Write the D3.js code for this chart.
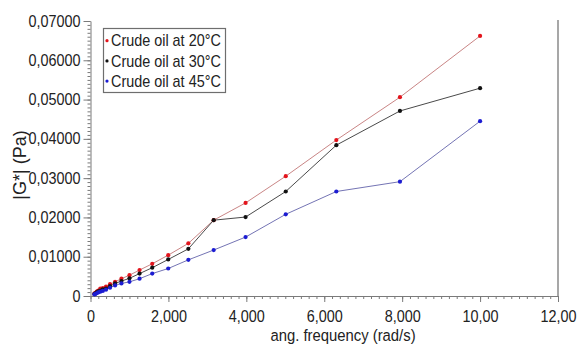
<!DOCTYPE html>
<html>
<head>
<meta charset="utf-8">
<script src="https://cdn.jsdelivr.net/npm/d3@7"></script>
<style>
  html, body { margin: 0; padding: 0; background: #fff; }
  svg { display: block; font-family: "Liberation Sans", Arial, sans-serif; }
  .squeeze { transform-box: fill-box; transform: scaleX(0.9); }
</style>
</head>
<body>
<div id="chart"></div>
<script>
// angular frequency (rad/s), 5 points per decade
const frequency = [0.1, 0.1259, 0.1585, 0.1995, 0.2512, 0.3162, 0.3981, 0.5012, 0.631, 0.7943,
  1.0, 1.259, 1.585, 1.995, 2.512, 3.162, 3.981, 5.012, 6.31, 7.943, 10.0];

const oil20 = [0.0006, 0.0008, 0.0011, 0.0014, 0.0019, 0.0020, 0.0024, 0.0030, 0.0036, 0.0044,
  0.0053, 0.0066, 0.0082, 0.0104, 0.0134, 0.0193, 0.0237, 0.0305, 0.0397, 0.0506, 0.0662];
const oil30 = [0.0005, 0.0007, 0.0009, 0.0012, 0.0014, 0.0017, 0.0019, 0.0025, 0.0032, 0.0038,
  0.0045, 0.0057, 0.0072, 0.0093, 0.0120, 0.0193, 0.0201, 0.0266, 0.0384, 0.0471, 0.0529];
const oil45 = [0.0004, 0.0005, 0.0007, 0.0009, 0.0011, 0.0013, 0.0016, 0.0021, 0.0027, 0.0032,
  0.0036, 0.0044, 0.0057, 0.0070, 0.0092, 0.0117, 0.0150, 0.0208, 0.0266, 0.0291, 0.0445];

const seriesNames = ["Crude oil at 20°C", "Crude oil at 30°C", "Crude oil at 45°C"];
const seriesValues = [oil20, oil30, oil45];
const dotColors = ["#e3141c", "#111111", "#1c1cd2"];
const lineColors = ["#c98585", "#4a4a4a", "#7474b4"];

const xTicks = [0, 2, 4, 6, 8, 10, 12];
const xTickLabels = ["0", "2,000", "4,000", "6,000", "8,000", "10,00", "12,00"];
const yTicks = [0, 0.01, 0.02, 0.03, 0.04, 0.05, 0.06, 0.07];
const yTickLabels = ["0", "0,01000", "0,02000", "0,03000", "0,04000", "0,05000", "0,06000", "0,07000"];

const W = 577, H = 345;
const axisColor = "#7a7a7a";

const svg = d3.select("#chart").append("svg")
  .attr("width", W)
  .attr("height", H);

svg.append("rect").attr("width", W).attr("height", H).attr("fill", "#fff");

const x = d3.scaleLinear().domain([0, 12]).range([90.5, 558]);
const y = d3.scaleLinear().domain([0, 0.07]).range([296, 21]);

// minor ticks
svg.append("g")
  .attr("transform", `translate(${x(0)},0)`)
  .call(d3.axisLeft(y).tickValues(d3.range(0, 0.0705, 0.001)).tickSize(3).tickFormat(""))
  .call(g => g.select(".domain").remove())
  .call(g => g.selectAll("line").attr("stroke", axisColor));

svg.append("g")
  .attr("transform", `translate(0,${y(0)})`)
  .call(d3.axisBottom(x).tickValues(d3.range(0, 12.01, 0.2)).tickSize(3).tickFormat(""))
  .call(g => g.select(".domain").remove())
  .call(g => g.selectAll("line").attr("stroke", axisColor));

// y axis
svg.append("g")
  .attr("transform", `translate(${x(0)},0)`)
  .call(d3.axisLeft(y).tickValues(yTicks).tickSize(7).tickSizeOuter(0).tickPadding(3)
    .tickFormat((d, i) => yTickLabels[i]))
  .call(g => g.select(".domain").attr("stroke", axisColor))
  .call(g => g.selectAll("line").attr("stroke", axisColor))
  .call(g => g.selectAll("text")
    .attr("class", "squeeze")
    .style("transform-origin", "100% 50%")
    .attr("fill", "#222")
    .attr("font-size", "16px"));

// x axis
svg.append("g")
  .attr("transform", `translate(0,${y(0)})`)
  .call(d3.axisBottom(x).tickValues(xTicks).tickSize(6).tickSizeOuter(0)
    .tickFormat((d, i) => xTickLabels[i]))
  .call(g => g.select(".domain").attr("stroke", axisColor))
  .call(g => g.selectAll("line").attr("stroke", axisColor))
  .call(g => g.selectAll("text")
    .attr("class", "squeeze")
    .style("transform-origin", "50% 50%")
    .attr("y", 26)
    .attr("dy", 0)
    .attr("fill", "#222")
    .attr("font-size", "16px"));

// right frame
svg.append("line")
  .attr("x1", x(12)).attr("x2", x(12))
  .attr("y1", y(0.07) - 1).attr("y2", y(0))
  .attr("stroke", "#8a8a8a")
  .attr("stroke-width", 1.5);

// axis titles
svg.append("text")
  .attr("class", "squeeze")
  .style("transform-origin", "50% 50%")
  .attr("x", 343)
  .attr("y", 341)
  .attr("text-anchor", "middle")
  .attr("fill", "#222")
  .attr("font-size", "16.5px")
  .text("ang. frequency (rad/s)");

svg.append("text")
  .attr("transform", "translate(26,165) rotate(-90)")
  .attr("text-anchor", "middle")
  .attr("fill", "#222")
  .attr("font-size", "18px")
  .text("|G*| (Pa)");

// series
const line = d3.line()
  .x((d, i) => x(frequency[i]))
  .y(d => y(d));

seriesValues.forEach((vals, s) => {
  svg.append("path")
    .datum(vals)
    .attr("fill", "none")
    .attr("stroke", lineColors[s])
    .attr("stroke-width", 1)
    .attr("d", line);
});

seriesValues.forEach((vals, s) => {
  svg.append("g")
    .selectAll("circle")
    .data(vals)
    .enter()
    .append("circle")
    .attr("cx", (d, i) => x(frequency[i]))
    .attr("cy", d => y(d))
    .attr("r", 2.1)
    .attr("fill", dotColors[s]);
});

// legend
const legend = svg.append("g");
legend.append("rect")
  .attr("x", 103.5).attr("y", 28.5)
  .attr("width", 122).attr("height", 64)
  .attr("fill", "#fff")
  .attr("stroke", "#6e6e6e")
  .attr("stroke-width", 1.2);

seriesNames.forEach((name, s) => {
  const cy = 40.7 + s * 20.2;
  legend.append("circle")
    .attr("cx", 107).attr("cy", cy)
    .attr("r", 1.6)
    .attr("fill", dotColors[s]);
  legend.append("text")
    .attr("class", "squeeze")
    .style("transform-origin", "0% 50%")
    .attr("x", 111)
    .attr("y", cy + 5.8)
    .attr("fill", "#222")
    .attr("font-size", "16px")
    .text(name);
});
</script>
</body>
</html>
